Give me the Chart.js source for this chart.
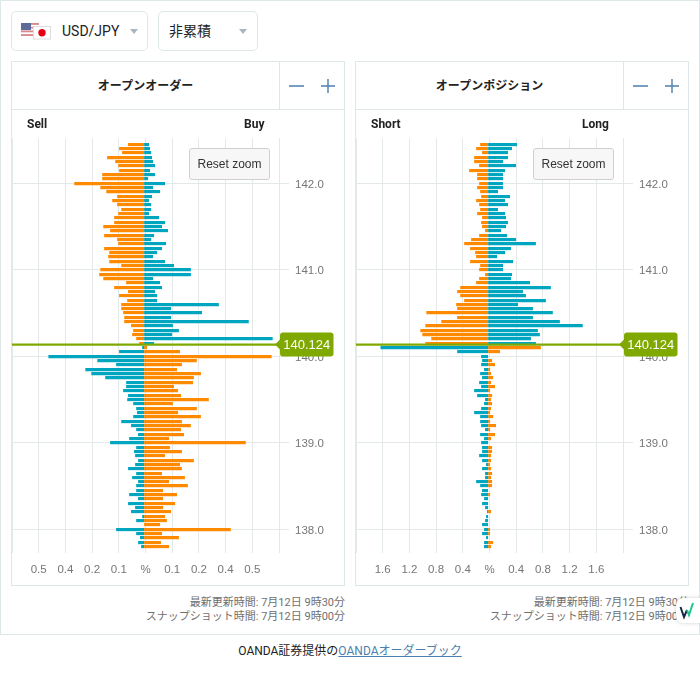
<!DOCTYPE html>
<html lang="ja">
<head>
<meta charset="utf-8">
<script src="https://cdn.jsdelivr.net/npm/chart.js@4"></script>
<style>
html,body{margin:0;padding:0;background:#fff;width:700px;height:700px;overflow:hidden;}
body{font-family:Roboto,"Noto Sans CJK JP",sans-serif;position:relative;}
.abs{position:absolute;box-sizing:border-box;}
#frame{left:0;top:0;width:700px;height:635px;border:1px solid #dfe8e8;border-bottom:1px solid #dfe8e8;}
.sel{top:11px;height:40px;border:1px solid #dfe8e8;border-radius:5px;background:#fff;}
.sel span{position:absolute;top:10px;font-size:14px;line-height:19px;color:#222;white-space:nowrap;}
.tri{position:absolute;top:17px;width:0;height:0;border-left:4.5px solid transparent;border-right:4.5px solid transparent;border-top:5px solid #a9b6c2;}
.panel{top:61px;width:334px;height:525px;border:1px solid #dfe8e8;background:#fff;}
.hdr{position:absolute;left:0;top:0;width:100%;height:47px;border-bottom:1px solid #dfe8e8;}
.hdr .title{position:absolute;left:0;width:267px;top:15px;text-align:center;font-weight:700;font-size:12px;line-height:18px;color:#222;}
.hdr .div{position:absolute;left:267px;top:0;width:1px;height:47px;background:#dfe8e8;}
.hdr svg{position:absolute;left:275px;top:15px;}
.side{position:absolute;top:54px;font-weight:700;font-size:12px;line-height:16px;color:#222;}
canvas{position:absolute;left:0;top:48px;}
.reset{position:absolute;left:177px;top:86px;width:79px;height:30px;border:1px solid #cfcfcf;border-radius:3px;background:#f7f7f7;color:#333;font:12px "Liberation Sans",Arial,sans-serif;line-height:30px;text-align:center;}
.stamp{top:596px;width:334px;text-align:right;font-size:11px;line-height:14px;color:#707070;white-space:nowrap;}
#foot{left:0;top:643px;width:700px;text-align:center;font-size:12px;line-height:17px;color:#222;}
#foot a{color:#4a7fb0;text-decoration:underline;}
#chip{left:676px;top:598px;width:30px;height:25px;background:#fff;border-radius:7px;box-shadow:0 0 4px rgba(0,0,0,.18);}
</style>
</head>
<body>
<div class="abs" id="frame"></div>

<div class="abs sel" style="left:11px;width:137px;">
  <svg style="position:absolute;left:9px;top:11px" width="32" height="17" viewBox="0 0 32 17">
    <rect x="0" y="0" width="18" height="13" fill="#fff"/>
    <rect x="0" y="0" width="18" height="1.9" fill="#d98a8f"/>
    <rect x="0" y="3.7" width="18" height="1.9" fill="#d98a8f"/>
    <rect x="0" y="7.4" width="18" height="1.9" fill="#d98a8f"/>
    <rect x="0" y="11.1" width="18" height="1.9" fill="#d98a8f"/>
    <rect x="0" y="0" width="10" height="7" fill="#5d6a9a"/>
    <rect x="12.5" y="3.5" width="17" height="12.5" fill="#fff" stroke="#dcdcdc"/>
    <circle cx="21" cy="9.8" r="3.7" fill="#e60012"/>
  </svg>
  <span style="left:50px;">USD/JPY</span>
  <i class="tri" style="left:118px;"></i>
</div>
<div class="abs sel" style="left:158px;width:100px;">
  <span style="left:10px;">非累積</span>
  <i class="tri" style="left:80px;"></i>
</div>

<div class="abs panel" style="left:11px;">
  <div class="hdr"><div class="title">オープンオーダー</div><div class="div"></div>
    <svg width="50" height="18" viewBox="0 0 50 18"><path d="M2 9H17M34 9H48M41 2V16" stroke="#4d7fae" stroke-width="1.4" fill="none"/></svg></div>
  <canvas id="orderChart" width="332" height="475"></canvas>
  <div class="side" style="left:15px;">Sell</div>
  <div class="side" style="left:232px;">Buy</div>
  <div class="reset">Reset zoom</div>
</div>

<div class="abs panel" style="left:355px;">
  <div class="hdr"><div class="title">オープンポジション</div><div class="div"></div>
    <svg width="50" height="18" viewBox="0 0 50 18"><path d="M2 9H17M34 9H48M41 2V16" stroke="#4d7fae" stroke-width="1.4" fill="none"/></svg></div>
  <canvas id="positionChart" width="332" height="475"></canvas>
  <div class="side" style="left:15px;">Short</div>
  <div class="side" style="left:226px;">Long</div>
  <div class="reset">Reset zoom</div>
</div>

<div class="abs stamp" style="left:11px;">最新更新時間: 7月12日 9時30分<br>スナップショット時間: 7月12日 9時00分</div>
<div class="abs stamp" style="left:355px;">最新更新時間: 7月12日 9時30分<br>スナップショット時間: 7月12日 9時00分</div>
<div class="abs" id="foot">OANDA証券提供の<a>OANDAオーダーブック</a></div>
<div class="abs" id="chip">
  <svg width="24" height="25" viewBox="0 0 24 25" style="position:absolute;left:0;top:0"><path d="M4.5 9L8 19L11 12" stroke="#14284a" stroke-width="2" fill="none"/><path d="M11 12L13 17L17 5" stroke="#1cc88a" stroke-width="2" fill="none"/></svg>
</div>

<script>
const lastPrice = 140.124;
const lastPriceLabel = "140.124";
const prices = [142.45,142.40,142.35,142.30,142.25,142.20,142.15,142.10,142.05,142.00,141.95,141.90,141.85,141.80,141.75,141.70,141.65,141.60,141.55,141.50,141.45,141.40,141.35,141.30,141.25,141.20,141.15,141.10,141.05,141.00,140.95,140.90,140.85,140.80,140.75,140.70,140.65,140.60,140.55,140.50,140.45,140.40,140.35,140.30,140.25,140.20,140.15,140.10,140.05,140.00,139.95,139.90,139.85,139.80,139.75,139.70,139.65,139.60,139.55,139.50,139.45,139.40,139.35,139.30,139.25,139.20,139.15,139.10,139.05,139.00,138.95,138.90,138.85,138.80,138.75,138.70,138.65,138.60,138.55,138.50,138.45,138.40,138.35,138.30,138.25,138.20,138.15,138.10,138.05,138.00,137.95,137.90,137.85,137.80];
const orderLeft = [.075,.117,.103,.173,.135,.121,.117,.196,.196,.327,.205,.177,.126,.149,.126,.107,.121,.14,.14,.191,.159,.187,.126,.121,.187,.163,.168,.163,.107,.205,.21,.191,.084,.14,.075,.117,.079,.107,.107,.098,.093,.093,.061,.051,.056,.037,.023,.009,.117,.448,.219,.131,.275,.247,.182,.084,.084,.098,.075,.079,.051,.037,.033,.051,.107,.061,.037,.028,.07,.159,.037,.047,.042,.028,.042,.075,.037,.056,.028,.037,.037,.07,.028,.075,.042,.061,.009,.037,0,.131,.037,.019,.028,.014];
const orderRight = [.023,.028,.033,.037,.042,.051,.028,.051,.019,.098,.042,.075,.037,.023,.033,.033,.023,.07,.098,.084,.112,.047,.033,.103,.084,.061,.042,.098,.14,.219,.219,.042,.075,.084,.051,.061,.061,.35,.126,.271,.126,.49,.135,.163,.131,.602,.047,.014,.168,.597,.247,.177,.154,.266,.233,.229,.14,.159,.173,.303,.135,.247,.159,.266,.177,.219,.173,.187,.117,.476,.121,.177,.098,.233,.168,.177,.084,.191,.117,.205,.089,.154,.089,.145,.089,.126,.098,.107,.075,.406,.084,.163,.079,.117];
const positionLeft = [.119,.179,.09,.209,.209,.134,.284,.164,.164,.134,.164,.119,.104,.179,.134,.119,.164,.09,.104,.09,.045,.134,.254,.358,.269,.194,.179,.269,.119,.134,.045,.134,.179,.418,.463,.418,.358,.478,.463,.925,.463,.701,.94,1.015,.985,.851,.94,1.612,.463,.104,.09,.104,.06,.119,.09,.134,.104,.209,.164,.045,.06,.104,.209,.119,.119,.104,.045,.119,.06,.104,.09,.09,.134,.09,.03,.09,.045,.045,.179,.119,.09,.104,.06,.09,.045,.015,.03,.045,.09,.06,.09,.03,.06,.06];
const positionRight = [.433,.358,.299,.299,.224,.418,.254,.224,.224,.224,.224,.149,.328,.254,.299,.149,.254,.269,.299,.269,.194,.284,.418,.716,.343,.254,.134,.373,.224,.224,.358,.343,.627,.94,.522,.567,.866,.448,.672,.97,.672,1.075,1.418,.746,.776,.642,.716,.791,.179,0,.06,.104,.03,.045,.075,.045,.104,.03,.06,.045,.06,.045,.03,.075,.03,.119,.03,.104,.045,0,.06,.06,.045,.045,.03,.045,.06,.045,.06,.06,0,.03,0,0,0,.045,0,0,0,.03,.03,0,.075,.045];
const orderTickLabels = ["","0.5","0.4","0.2","0.1","%","0.1","0.2","0.4","0.5",""];
const positionTickLabels = ["","1.6","1.2","0.8","0.4","%","0.4","0.8","1.2","1.6",""];
const orderStep = 0.125;
const positionStep = 0.4;
const priceTickValues = [138,139,140,141,142];

const ORANGE = "#ff8a00", TEAL = "#00a6bf", GRID = "#e3e8e8", TICK = "#767676", GREEN = "#7fa900";

/* keeps each bar on whole device pixels, so rows stay crisp with a faint lower edge */
const snapBars = {
  id: "snapBars",
  beforeDatasetsDraw(chart) {
    chart.getSortedVisibleDatasetMetas().forEach(meta => meta.data.forEach(bar => {
      const h = bar.height;
      bar.y = Math.round(bar.y - h / 2) + h / 2;
    }));
  }
};

const priceTag = {
  id: "priceTag",
  afterDraw(chart) {
    const {ctx, scales:{y}, chartArea:a} = chart;
    const py = y.getPixelForValue(lastPrice) - 1;
    ctx.save();
    ctx.strokeStyle = GREEN; ctx.lineWidth = 2.4;
    ctx.beginPath(); ctx.moveTo(a.left, py); ctx.lineTo(a.right, py); ctx.stroke();
    const x0 = a.right + 1, x1 = a.right + 54.5, h = 12, r = 3;
    ctx.fillStyle = GREEN;
    ctx.beginPath();
    ctx.moveTo(x0 - 5, py);
    ctx.lineTo(x0, py - 5);
    ctx.lineTo(x0, py - h + r); ctx.quadraticCurveTo(x0, py - h, x0 + r, py - h);
    ctx.lineTo(x1 - r, py - h); ctx.quadraticCurveTo(x1, py - h, x1, py - h + r);
    ctx.lineTo(x1, py + h - r); ctx.quadraticCurveTo(x1, py + h, x1 - r, py + h);
    ctx.lineTo(x0 + r, py + h); ctx.quadraticCurveTo(x0, py + h, x0, py + h - r);
    ctx.lineTo(x0, py + 5); ctx.closePath(); ctx.fill();
    ctx.fillStyle = "#fff"; ctx.font = '13px "Liberation Sans", Arial, sans-serif';
    ctx.textAlign = "center"; ctx.textBaseline = "middle";
    ctx.fillText(lastPriceLabel, (x0 + x1) / 2, py + 0.5);
    ctx.restore();
  }
};

function build(id, leftVals, rightVals, labels, step) {
  const span = step * 5;
  const barMin = -span * 0.9894, barMax = span * 1.0106;
  const leftColors = prices.map(p => p > lastPrice ? ORANGE : TEAL);
  const rightColors = prices.map(p => p > lastPrice ? TEAL : ORANGE);
  new Chart(document.getElementById(id), {
    type: "bar",
    plugins: [snapBars, priceTag],
    data: {
      datasets: [
        {data: prices.map((p,i) => ({x:-leftVals[i], y:p})), backgroundColor:leftColors, xAxisID:"xb", yAxisID:"y", barThickness:3.15, borderWidth:0, inflateAmount:0},
        {data: prices.map((p,i) => ({x:rightVals[i], y:p})), backgroundColor:rightColors, xAxisID:"xb", yAxisID:"y", barThickness:3.15, borderWidth:0, inflateAmount:0}
      ]
    },
    options: {
      indexAxis: "y",
      responsive: false,
      animation: false,
      events: [],
      layout: {autoPadding:false, padding: {left:0, right:0, top:28, bottom:0}},
      plugins: {legend:{display:false}, tooltip:{enabled:false}, title:{display:false}},
      scales: {
        x: {
          type:"linear", position:"bottom", min:-span, max:span, offset:false,
          afterBuildTicks(s){ s.ticks = labels.map((_,i) => ({value:-span + i*step})); },
          afterFit(s){ s.height = 32; },
          border:{display:false},
          grid:{color:GRID, lineWidth:1, drawTicks:true, tickLength:10, tickColor:"rgba(0,0,0,0)", offset:false},
          ticks:{callback:(v,i)=>labels[i], autoSkip:false, maxRotation:0, color:TICK, padding:0, font:{family:'"Liberation Sans", Arial, sans-serif', size:11.5}}
        },
        xb: {type:"linear", position:"top", display:false, stacked:true, min:barMin, max:barMax, offset:false},
        y: {
          type:"linear", position:"right", stacked:true, min:137.726, max:142.524, offset:false,
          afterBuildTicks(s){ s.ticks = priceTickValues.map(v => ({value:v})); },
          afterFit(s){ s.width = 65; },
          border:{display:false},
          grid:{color:GRID, lineWidth:1, drawTicks:true, tickLength:10, tickColor:GRID, offset:false},
          ticks:{callback:v=>v.toFixed(1), color:TICK, padding:6, labelOffset:1.5, font:{family:'"Liberation Sans", Arial, sans-serif', size:11.5}}
        }
      }
    }
  });
}
build("orderChart", orderLeft, orderRight, orderTickLabels, orderStep);
build("positionChart", positionLeft, positionRight, positionTickLabels, positionStep);
</script>
</body>
</html>
